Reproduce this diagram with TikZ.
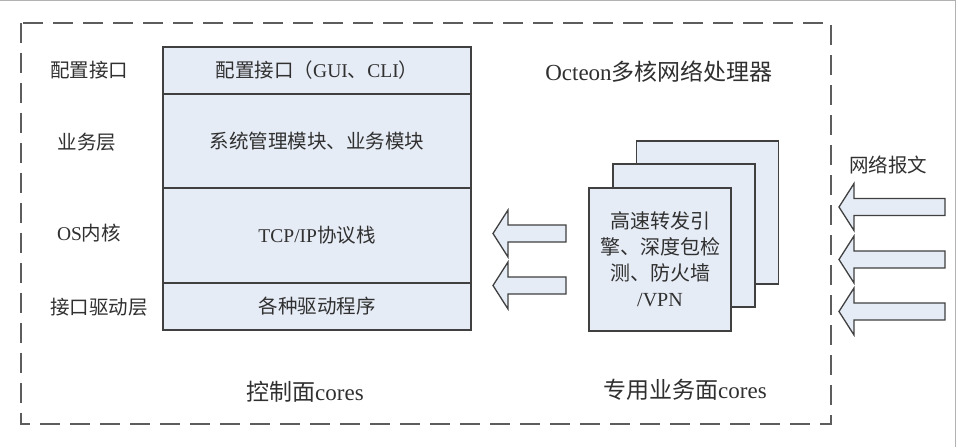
\documentclass[tikz,border=0pt]{standalone}
\usepackage{fontspec}
\setmainfont{Liberation Serif}
\newfontfamily\cjk{Noto Sans CJK SC}
\definecolor{boxfill}{HTML}{E6ECF6}
\definecolor{linec}{HTML}{404040}
\definecolor{txt}{HTML}{303030}
\begin{document}
\begin{tikzpicture}[x=1pt,y=-1pt,
  every node/.style={font=\fontsize{19.5}{26}\selectfont, text=txt, inner sep=0pt},
  big/.style={font=\fontsize{23}{28}\selectfont},
  layer/.style={draw=linec, line width=1.3pt, fill=boxfill, minimum width=308pt},
  card/.style={draw=linec, line width=1.3pt, fill=boxfill, minimum width=142pt, minimum height=143pt, align=center},
  blockarr/.style={draw=linec, line width=1.3pt, fill=boxfill, line join=miter},
  framebox/.style={draw=linec!85, line width=1.5pt, dash pattern=on 20pt off 10pt},
  pics/blockarrow/.style={code={
    \draw[blockarr] (0,0) -- (15,-23.5) -- (15,-8.5) -- (#1,-8.5) -- (#1,8.5) -- (15,8.5) -- (15,23.5) -- cycle;}}]
% canvas
\path[use as bounding box, fill=white] (0,0) rectangle (958,447);
\draw[gray!60, line width=1.2pt] (0,0.6) -- (955.4,0.6) -- (955.4,447);
% dashed frame
\draw[framebox] (21,23) rectangle (831,424);
% left labels
\node (lab1) at (89,70) {\cjk 配置接口};
\node (lab2) at (87,142) {\cjk 业务层};
\node (lab3) at (89,233) {OS{\cjk 内核}};
\node (lab4) at (99,307) {\cjk 接口驱动层};
% stack
\node[layer, minimum height=47pt] (l1) at (317,70.5) {{\cjk 配置接口（}GUI{\cjk 、}CLI{\cjk ）}};
\node[layer, minimum height=94pt] (l2) at (317,141) {\cjk 系统管理模块、业务模块};
\node[layer, minimum height=95pt] (l3) at (317,235.5) {TCP/IP{\cjk 协议栈}};
\node[layer, minimum height=47pt] (l4) at (317,306.5) {\cjk 各种驱动程序};
\node[big] (ctl) at (305,392) {{\cjk 控制面}cores};
% title
\node[big] (title) at (659,72) {Octeon{\cjk 多核网络处理器}};
% cards
\node[card] (c3) at (707.5,212.5) {};
\node[card] (c2) at (684,235.5) {};
\node[card, font=\fontsize{20}{26}\selectfont] (c1) at (660,259.5) {{\cjk 高速转发引}\\{\cjk 擎、深度包检}\\{\cjk 测、防火墙}\\/VPN};
\node[big] (svc) at (685,390) {{\cjk 专用业务面}cores};
% left arrows
\pic (la1) at (493,233.5) {blockarrow=73};
\pic (la2) at (493,285.5) {blockarrow=73};
% right arrows
\node (net) at (888,165) {\cjk 网络报文};
\pic (ra1) at (839,207) {blockarrow=106};
\pic (ra2) at (839,259.5) {blockarrow=106};
\pic (ra3) at (839,311.5) {blockarrow=106};
\end{tikzpicture}
\end{document}
